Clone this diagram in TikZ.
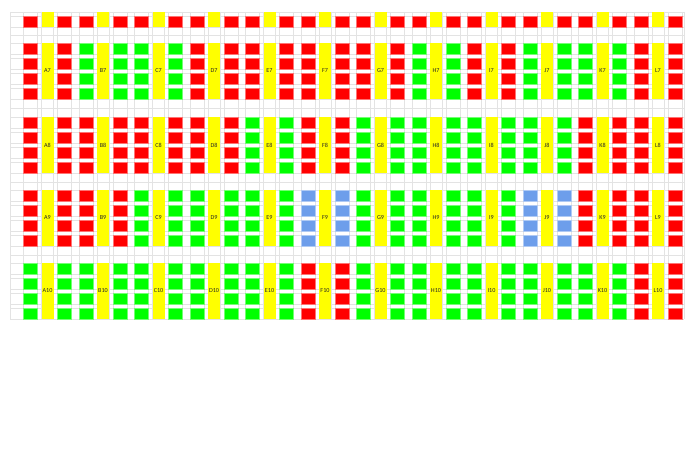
\documentclass[tikz,border=0pt]{standalone}
\usepackage{fontspec}
\setmainfont{Carlito}
\definecolor{cR}{HTML}{FF0000}
\definecolor{cG}{HTML}{00FF00}
\definecolor{cB}{HTML}{6D9EEB}
\definecolor{cY}{HTML}{FFFF00}
\tikzset{
  gridline/.style={draw=black!11, line width=0.45pt},
  cellR/.style={fill=cR, draw=cR!55!white, line width=0.5pt},
  cellG/.style={fill=cG, draw=cG!55!white, line width=0.5pt},
  cellB/.style={fill=cB, draw=cB!55!white, line width=0.5pt},
  yelbar/.style={fill=cY},
  lab/.style={font=\fontsize{4.6}{5}\selectfont, text=black!85, inner sep=0pt}
}
\newcommand\blockrow[3]{%
  \foreach \L/\c [count=\i from 0] in {#3} {
    \pgfmathsetmacro\xo{23.5+55.5*\i}
    \foreach \r in {0,1,2,3}{
      \pgfmathsetmacro\yt{#2+15*\r}
      \draw[cell\c] (\xo,\yt) rectangle ++(14,11);
      \draw[cell\c] (\xo+34,\yt) rectangle ++(14,11);
    }
    \fill[yelbar] (\xo+18,#2) rectangle ++(12,56);
    \node[lab] (l\L#1) at (\xo+24,#2+28) {\L#1};
  }}
\begin{document}
\begin{tikzpicture}[x=0.75pt,y=-0.75pt]
\useasboundingbox[fill=white] (0,0) rectangle (696,470);
% spreadsheet grid
\foreach \y in {12,16,27,35,43,54,58,69,73,84,88,99,108,117,128,132,143,147,158,162,173,182,190,201,205,216,220,231,235,246,255,263,274,278,289,293,304,308,319}
  \draw[gridline] (10,\y) -- (684,\y);
\draw[gridline] (10,12) -- (10,319);
\draw[gridline] (684,12) -- (684,319);
\foreach \i in {0,...,11}{
  \pgfmathsetmacro\xo{23.5+55.5*\i}
  \foreach \d in {0,14,18,30,34,48}
    \draw[gridline] (\xo+\d,12) -- (\xo+\d,319);
}
% top row
\foreach \i in {0,...,11}{
  \pgfmathsetmacro\xo{23.5+55.5*\i}
  \draw[cellR] (\xo,16) rectangle ++(14,11);
  \draw[cellR] (\xo+34,16) rectangle ++(14,11);
  \fill[yelbar] (\xo+18,12) rectangle ++(12,15);
}
% blocks
\blockrow{7}{43}{A/R,B/G,C/G,D/R,E/R,F/R,G/R,H/G,I/R,J/G,K/G,L/R}
\blockrow{8}{117}{A/R,B/R,C/R,D/R,E/G,F/R,G/G,H/G,I/G,J/G,K/R,L/R}
\blockrow{9}{190}{A/R,B/R,C/G,D/G,E/G,F/B,G/G,H/G,I/G,J/B,K/R,L/R}
\blockrow{10}{263}{A/G,B/G,C/G,D/G,E/G,F/R,G/G,H/G,I/G,J/G,K/G,L/R}
\end{tikzpicture}
\end{document}
